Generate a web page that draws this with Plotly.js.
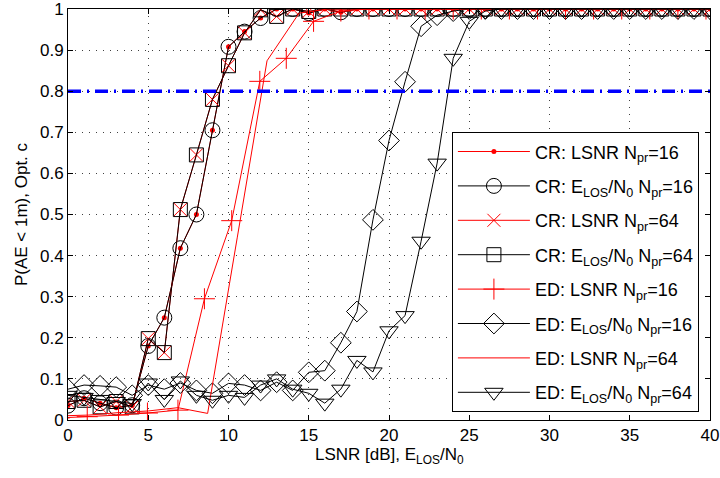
<!DOCTYPE html>
<html>
<head>
<meta charset="utf-8">
<script src="https://cdn.plot.ly/plotly-3.0.1.min.js"></script>
<style>html,body{margin:0;padding:0;background:#fff}#chart{width:720px;height:478px}</style>
</head>
<body>
<div id="chart"></div>
<script>
// integer grid for E_LOS/N0 curves
const xInt = [0,1,2,3,4,5,6,7,8,9,10,11,12,13,14,15,16,17,18,19,20,21,22,23,24,25,26,27,28,29,30,31,32,33,34,35,36,37,38,39,40];

// CR, Npr=16 (LSNR and E_LOS/N0 coincide)
const crN16 = [0.035,0.053,0.041,0.030,0.036,0.180,0.249,0.418,0.500,0.705,0.908,0.945,0.978,1.000,1.000,0.990,1.000,0.992,1,1,1,1,1,1,1,1,1,1,1,1,1,1,1,1,1,1,1,1,1,1,1];
// CR, Npr=64
const crN64 = [0.045,0.048,0.032,0.045,0.032,0.198,0.164,0.512,0.645,0.780,0.862,0.942,0.998,0.982,1.000,0.994,1,1,1,1,1,1,1,1,1,1,1,1,1,1,1,1,1,1,1,1,1,1,1,1,1];

// ED, LSNR Npr=16 (own x grid)
const edLsnr16X = [-0.55,1.2,3.15,4.95,6.85,8.5,10.2,11.95,13.6,15.3,17.0,18.75,20.5,22.25,24.0,25.75,27.5,29.25,31.0,32.75,34.5,36.25,38.0,39.75];
const edLsnr16Y = [0.005,0.008,0.012,0.017,0.024,0.295,0.485,0.824,0.880,0.970,0.995,1,1,1,1,1,1,1,1,1,1,1,1,1];

// ED, LSNR Npr=64 (own x grid)
const edLsnr64X = [-0.55,1.3,3.15,5.0,6.85,8.7,10.55,12.4,14.4,16.2,18.0,20,22,24,26,28,30,32,34,36,38,40];
const edLsnr64Y = [0.010,0.012,0.018,0.022,0.030,0.016,0.445,0.874,0.990,1,1,1,1,1,1,1,1,1,1,1,1,1];

// ED, E_LOS/N0 Npr=16
const edElos16 = [0.075,0.085,0.083,0.080,0.060,0.085,0.075,0.090,0.072,0.065,0.089,0.085,0.072,0.092,0.072,0.116,0.120,0.188,0.264,0.487,0.680,0.823,0.958,0.985,0.995,1,1,1,1,1,1,1,1,1,1,1,1,1,1,1,1];
// ED, E_LOS/N0 Npr=64
const edElos64 = [0.060,0.055,0.050,0.045,0.040,0.090,0.050,0.095,0.060,0.048,0.060,0.055,0.085,0.100,0.075,0.065,0.041,0.075,0.145,0.117,0.217,0.254,0.435,0.625,0.880,0.970,0.995,1,1,1,1,1,1,1,1,1,1,1,1,1,1];

const refX = [0,40];
const refY = [0.8,0.8];

const xTicks = [0,5,10,15,20,25,30,35,40];
const xTickText = ['0','5','10','15','20','25','30','35','40'];
const yTicks = [0,0.1,0.2,0.3,0.4,0.5,0.6,0.7,0.8,0.9,1];
const yTickText = ['0','0.1','0.2','0.3','0.4','0.5','0.6','0.7','0.8','0.9','1'];

const names = [
  'CR: LSNR N<sub>pr</sub>=16',
  'CR: E<sub>LOS</sub>/N<sub>0</sub> N<sub>pr</sub>=16',
  'CR: LSNR N<sub>pr</sub>=64',
  'CR: E<sub>LOS</sub>/N<sub>0</sub> N<sub>pr</sub>=64',
  'ED: LSNR N<sub>pr</sub>=16',
  'ED: E<sub>LOS</sub>/N<sub>0</sub> N<sub>pr</sub>=16',
  'ED: LSNR N<sub>pr</sub>=64',
  'ED: E<sub>LOS</sub>/N<sub>0</sub> N<sub>pr</sub>=64'
];

const RED = 'rgb(255,0,0)';
const BLK = 'rgb(0,0,0)';

const traces = [
  {x: xInt, y: crN16, name: names[0], legendgroup:'g0', mode:'lines+markers', line:{color:RED,width:1},
   marker:{symbol:'circle', size:5, color:RED}},
  {x: xInt, y: crN16, name: names[1], legendgroup:'g1', mode:'lines+markers', line:{color:BLK,width:1},
   marker:{symbol:'circle-open', size:15, color:BLK, line:{width:1,color:BLK}}},
  {x: xInt, y: crN64, name: names[2], legendgroup:'g2', mode:'lines+markers', line:{color:RED,width:1},
   marker:{symbol:'x-thin-open', size:13, color:RED, line:{width:1,color:RED}}},
  {x: xInt, y: crN64, name: names[3], legendgroup:'g3', mode:'lines+markers', line:{color:BLK,width:1},
   marker:{symbol:'square-open', size:14, color:BLK, line:{width:1,color:BLK}}},
  {x: edLsnr16X, y: edLsnr16Y, name: names[4], legendgroup:'g4', mode:'lines+markers', line:{color:RED,width:1},
   marker:{symbol:'cross-thin-open', size:15, color:RED, line:{width:1,color:RED}}},
  {x: xInt, y: edElos16, name: names[5], legendgroup:'g5', mode:'lines+markers', line:{color:BLK,width:1},
   marker:{symbol:'diamond-open', size:16, color:BLK, line:{width:1,color:BLK}}},
  {x: edLsnr64X, y: edLsnr64Y, name: names[6], legendgroup:'g6', mode:'lines', line:{color:RED,width:1}},
  {x: xInt, y: edElos64, name: names[7], legendgroup:'g7', mode:'lines+markers', line:{color:BLK,width:1},
   marker:{symbol:'triangle-down-open', size:16, color:BLK, line:{width:1,color:BLK}}},
  {x: refX, y: refY, mode:'lines', showlegend:false, hoverinfo:'skip',
   line:{color:'rgb(0,0,255)', width:3.5, dash:'13px,6px,2px,6px'}}
];

const FONT = 'Liberation Sans, Arial, Helvetica, sans-serif';

const layout = {
  width: 720, height: 478,
  margin: {l:68, r:10, t:9, b:58},
  paper_bgcolor:'#fff', plot_bgcolor:'#fff',
  font: {family: FONT, size: 17, color:'#000'},
  showlegend: true,
  xaxis: {
    range:[0,40], tickvals:xTicks, ticktext:xTickText,
    ticks:'inside', ticklen:5, tickcolor:'#000', mirror:'ticks',
    showline:true, linecolor:'#000', linewidth:1,
    showgrid:true, gridcolor:'rgba(0,0,0,0.75)', griddash:'1px,6px', gridwidth:1,
    zeroline:false, tickfont:{size:17}, ticklabeloverflow:'allow'
  },
  yaxis: {
    range:[0,1], tickvals:yTicks, ticktext:yTickText,
    ticks:'inside', ticklen:5, tickcolor:'#000', mirror:'ticks',
    showline:true, linecolor:'#000', linewidth:1,
    showgrid:true, gridcolor:'rgba(0,0,0,0.75)', griddash:'1px,6px', gridwidth:1,
    zeroline:false, tickfont:{size:17}, ticklabeloverflow:'allow',
    title:{text:'P(AE < 1m), Opt. c', font:{size:17}, standoff:8}
  },
  annotations: [{
    xref:'paper', yref:'paper', x:0.5, y:0, xanchor:'center', yanchor:'top',
    yshift:-23, showarrow:false,
    text:'LSNR [dB], E<sub>LOS</sub>/N<sub>0</sub>', font:{family:FONT, size:17, color:'#000'}
  }],
  legend: {
    x:0.598, y:0.7, xanchor:'left', yanchor:'top',
    bgcolor:'#fff', bordercolor:'#000', borderwidth:1,
    font:{family:FONT, size:18, color:'#000'},
    itemwidth:72, tracegroupgap:8
  }
};

Plotly.newPlot('chart', traces, layout, {staticPlot:true, displayModeBar:false});
</script>
</body>
</html>
